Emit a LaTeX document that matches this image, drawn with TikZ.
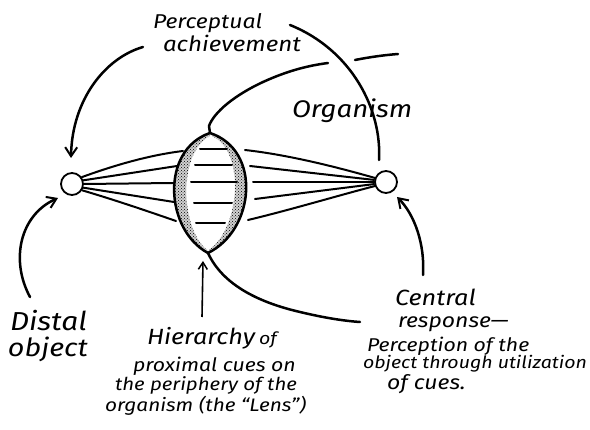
\documentclass[tikz,border=0pt]{standalone}
\usepackage{fontspec}
\newfontfamily\hand[FakeStretch=1.15]{Fira Sans}
\usetikzlibrary{arrows.meta,patterns}
\tikzset{
  stroke/.style={line width=2.5pt,line cap=round,line join=round},
  fan/.style={line width=2pt,line cap=round},
  barb/.style={-{Straight Barb[length=9pt,width=12pt,line width=2pt]}},
  obj/.style={circle,draw,line width=1.8pt,minimum size=22pt,inner sep=0pt},
  txt/.style={anchor=base west,inner sep=0pt,outer sep=0pt},
}
\newcommand\fs[1]{\hand\itshape\fontsize{#1}{#1}\selectfont}
\begin{document}
\begin{tikzpicture}[x=1pt,y=-1pt]
\useasboundingbox (0,0) rectangle (590,430);
% objects
\node[obj] (D) at (72,184) {};
\node[obj] (C) at (386,182) {};
% lens ends
\coordinate (LT) at (210,133);
\coordinate (LB) at (208,253);
% stipple bands
\fill[black!18] (LT) .. controls (160,150) and (165,230) .. (LB) -- (207,250) .. controls (180,228) and (178,152) .. (210,136) -- cycle;
\fill[black!18] (LT) .. controls (262,150) and (255,230) .. (LB) -- (209,250) .. controls (240,228) and (246,152) .. (212,136) -- cycle;
\fill[pattern=crosshatch dots] (LT) .. controls (160,150) and (165,230) .. (LB) -- (207,250) .. controls (180,228) and (178,152) .. (210,136) -- cycle;
\fill[pattern=crosshatch dots] (LT) .. controls (262,150) and (255,230) .. (LB) -- (209,250) .. controls (240,228) and (246,152) .. (212,136) -- cycle;
% lens outline
\draw[stroke] (LT) .. controls (160,150) and (165,230) .. (LB);
\draw[stroke] (LT) .. controls (262,150) and (255,230) .. (LB);
% inner lines
\draw[fan] (200,149) -- (227,149);
\draw[fan] (195,165) -- (232,165);
\draw[fan] (191,182) -- (237,182);
\draw[fan] (194,203) -- (232,203);
\draw[fan] (196,223) -- (225,223);
% left fan
\draw[fan] (D.35) .. controls (115,165) and (150,155) .. (183,151);
\draw[fan] (D.18) -- (177,166);
\draw[fan] (D.0) -- (174,183);
\draw[fan] (D.-18) -- (174,202);
\draw[fan] (D.-32) .. controls (115,200) and (150,212) .. (176,221);
% right fan
\draw[fan] (245,150) .. controls (290,155) and (340,168) .. (C.160);
\draw[fan] (250,166) -- (C.170);
\draw[fan] (253,182) -- (C.180);
\draw[fan] (255,199) -- (C.190);
\draw[fan] (248,220) .. controls (290,210) and (340,195) .. (C.200);
% organism boundary
\draw[stroke] (LT) -- (209,126) .. controls (214,112) and (235,95) .. (263,82) .. controls (285,72) and (305,66) .. (328,63);
\draw[stroke] (355,60) .. controls (370,57) and (385,55) .. (398,54);
\draw[stroke] (LB) .. controls (225,290) and (270,305) .. (300,312) .. controls (325,318) and (345,321) .. (360,322);
% perceptual achievement arc
\coordinate (A1) at (379,160);
\coordinate (A2) at (290,25);
\coordinate (A3) at (143,47);
\coordinate (A4) at (71,158);
\draw[stroke] (A1) .. controls (382,110) and (352,50) .. (A2);
\draw[stroke,barb] (A3) .. controls (105,58) and (72,100) .. (A4);
% distal arrow
\coordinate (B1) at (30,297);
\coordinate (B2) at (58,198);
\draw[stroke,barb] (B1) .. controls (10,260) and (20,215) .. (B2);
% central arrow
\coordinate (E1) at (423,275);
\coordinate (E2) at (397,197);
\draw[stroke,barb] (E1) .. controls (425,245) and (415,215) .. (E2);
% hierarchy arrow
\coordinate (H1) at (202,317);
\coordinate (H2) at (203,261);
\draw[line width=1.6pt,-{Straight Barb[length=7pt,width=9pt,line width=1.5pt]}] (H1) -- (H2);
% texts
\node[txt,font=\fs{20}] (t1) at (153,29) {Perceptual};
\node[txt,font=\fs{21}] (t2) at (163,52) {achievement};
\node[txt,font=\fs{24}] (t3) at (292,118) {Organism};
\node[txt,font=\fs{26}] (t4) at (10,331) {Distal};
\node[txt,font=\fs{25}] (t5) at (8,357) {object};
\node[txt,font=\fs{22}] (t6) at (147,345) {Hierarchy};
\node[txt,font=\fs{17}] (t7) at (259,345) {of};
\node[txt,font=\fs{18.5}] (t8) at (133,372) {proximal cues on};
\node[txt,font=\fs{17.8}] (t9) at (115,391) {the periphery of the};
\node[txt,font=\fs{18.1}] (t10) at (105,412) {organism (the “Lens”)};
\node[txt,font=\fs{22}] (t11) at (395,306) {Central};
\node[txt,font=\fs{20}] (t12) at (398,328) {response—};
\node[txt,font=\fs{18.5}] (t13) at (367,352) {Perception of the};
\node[txt,font=\fs{17}] (t14) at (363,369) {object through utilization};
\node[txt,font=\fs{20}] (t15) at (387,390) {of cues.};
\end{tikzpicture}
\end{document}
